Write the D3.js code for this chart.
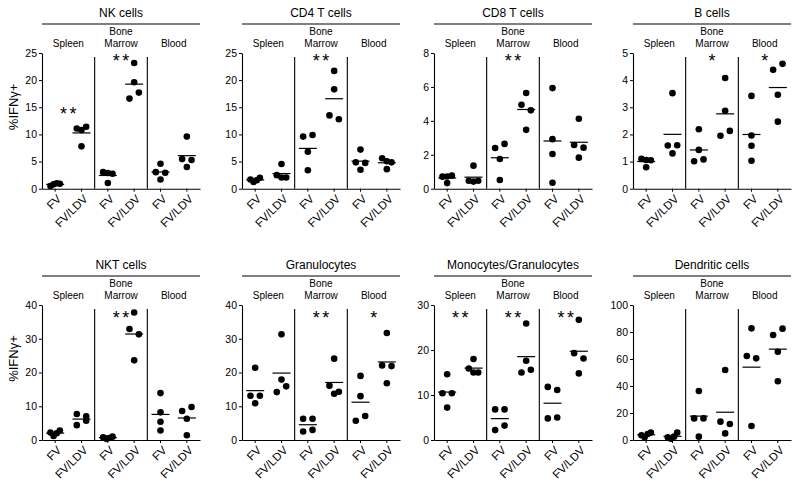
<!DOCTYPE html>
<html><head><meta charset="utf-8">
<script src="https://cdn.jsdelivr.net/npm/d3@7/dist/d3.min.js"></script>
<style>
body{margin:0;background:#fff}
svg{display:block}
text{font-family:"Liberation Sans",Arial,Helvetica,sans-serif;fill:#000}
</style>
</head><body>
<svg id="chart" width="800" height="491"></svg>
<script>
// ---------- data ----------
const panelTitles = ["NK cells", "CD4 T cells", "CD8 T cells", "B cells",
                     "NKT cells", "Granulocytes", "Monocytes/Granulocytes", "Dendritic cells"];
const tissues = ["Spleen", "Bone Marrow", "Blood"];
const treatments = ["FV", "FV/LDV"];
const yMaxima = [25, 25, 8, 5, 40, 40, 30, 100];
const yTickSteps = [5, 5, 2, 1, 10, 10, 10, 20];
const yAxisLabel = "%IFNγ+";

// groups: Spleen FV, Spleen FV/LDV, BM FV, BM FV/LDV, Blood FV, Blood FV/LDV
const nkValues = [[0.5, 0.8, 1.0, 0.9], [11.1, 10.8, 11.4, 7.8], [3.05, 1.05, 2.9, 2.75],
                  [23.15, 19.6, 16.6, 17.7], [4.6, 3.05, 2.95, 1.7], [9.6, 5.45, 5.3, 4.0]];
const cd4Values = [[1.7, 1.25, 1.55, 2.0], [4.55, 2.5, 2.05, 2.05], [9.6, 9.9, 6.8, 3.4],
                   [21.7, 18.3, 13.5, 12.8], [7.2, 4.85, 4.75, 3.5], [5.6, 5.05, 4.85, 3.6]];
const cd8Values = [[0.71, 0.72, 0.77, 0.33], [1.36, 0.47, 0.42, 0.47], [2.4, 2.64, 1.75, 0.51],
                   [5.64, 4.95, 4.62, 3.47], [5.93, 2.92, 2.05, 0.35], [4.12, 2.58, 2.42, 1.83]];
const bValues = [[1.1, 1.06, 1.05, 0.79], [3.52, 1.59, 1.6, 1.3], [2.19, 1.43, 1.01, 1.08],
                 [4.08, 2.87, 1.95, 2.13], [3.42, 1.96, 1.58, 1.03], [4.38, 4.6, 3.46, 2.47]];
const nktValues = [[2.2, 1.2, 2.0, 2.8], [7.7, 7.0, 4.4, 5.7], [0.8, 0.4, 0.6, 1.0],
                   [37.8, 32.9, 31.3, 23.6], [13.9, 8.2, 5.4, 2.8], [8.6, 9.8, 6.3, 1.4]];
const granValues = [[21.4, 13.1, 13.1, 10.9], [31.3, 17.9, 14.2, 15.9], [6.3, 6.3, 2.5, 3.0],
                    [24.1, 16.1, 13.7, 14.3], [19.0, 13.0, 5.7, 7.1], [31.7, 22.1, 21.9, 16.8]];
const monoValues = [[14.6, 10.4, 10.4, 7.2], [18.0, 15.9, 15.0, 15.0], [6.8, 6.8, 2.2, 3.2],
                    [25.9, 17.6, 15.0, 15.6], [11.8, 11.1, 4.8, 5.0], [26.7, 19.3, 18.1, 14.8]];
const dcValues = [[3.5, 2.0, 4.5, 5.5], [2.0, 1.0, 2.5, 5.5], [36.3, 16.0, 16.0, 2.5],
                  [51.9, 13.6, 11.9, 4.9], [82.7, 62.2, 60.5, 10.4], [77.8, 82.5, 65.4, 43.5]];

// significance per tissue (Spleen, Bone Marrow, Blood) and the value level where it sits
const nkSig = ["**", "**", ""],   nkSigAt = [14.5, 24.3, null];
const cd4Sig = ["", "**", ""],    cd4SigAt = [null, 24.3, null];
const cd8Sig = ["", "**", ""],    cd8SigAt = [null, 7.76, null];
const bSig = ["", "*", "*"],      bSigAt = [null, 4.85, 4.85];
const nktSig = ["", "**", ""],    nktSigAt = [null, 37.3, null];
const granSig = ["", "**", "*"],  granSigAt = [null, 37.3, 37.3];
const monoSig = ["**", "**", "**"], monoSigAt = [28, 28, 28];
const dcSig = ["", "", ""],       dcSigAt = [null, null, null];

const allValues = [nkValues, cd4Values, cd8Values, bValues, nktValues, granValues, monoValues, dcValues];
const allSig = [nkSig, cd4Sig, cd8Sig, bSig, nktSig, granSig, monoSig, dcSig];
const allSigAt = [nkSigAt, cd4SigAt, cd8SigAt, bSigAt, nktSigAt, granSigAt, monoSigAt, dcSigAt];

// ---------- layout ----------
const panelLefts = [42, 242, 434, 633];
const rowTops = [53, 305];
const rowBottoms = [188.7, 440];
const plotW = 158;
const svg = d3.select("#chart");

function dodge(values, y) {
  const order = values.map((v, i) => i).sort((a, b) => values[b] - values[a]);
  const rows = [];
  let cur = null;
  order.forEach(i => {
    const py = y(values[i]);
    if (cur && Math.abs(py - cur.y0) < 6.5) cur.members.push(i);
    else { cur = {y0: py, members: [i]}; rows.push(cur); }
  });
  const off = values.map(() => 0);
  rows.forEach(r => {
    r.members.sort((a, b) => a - b);
    const n = r.members.length;
    r.members.forEach((m, k) => { off[m] = n === 1 ? 0 : -4.7 + 9.4 * k / (n - 1); });
  });
  return off;
}

const categories = d3.range(6);

allValues.forEach((groups, p) => {
  const row = Math.floor(p / 4), col = p % 4;
  const left = panelLefts[col], top = rowTops[row], bottom = rowBottoms[row];
  const g = svg.append("g").attr("transform", `translate(${left},0)`);

  const x = d3.scaleBand().domain(categories).range([0, plotW]).paddingInner(0).paddingOuter(0);
  const y = d3.scaleLinear().domain([0, yMaxima[p]]).range([bottom, top]);
  const bw = x.bandwidth();

  // title and rule
  g.append("text").attr("x", plotW / 2).attr("y", top - 36).attr("text-anchor", "middle")
    .style("font-size", "12px").text(panelTitles[p]);
  g.append("line").attr("x1", 0).attr("x2", plotW).attr("y1", top - 29).attr("y2", top - 29)
    .attr("stroke", "#000").attr("stroke-width", 1.2);

  // tissue labels
  tissues.forEach((t, k) => {
    const cx = x(2 * k) + bw;
    const words = t.split(" ");
    words.forEach((w, j) => {
      g.append("text").attr("x", cx).attr("y", top - 6.5 - (words.length - 1 - j) * 11.5)
        .attr("text-anchor", "middle").style("font-size", "10px").text(w);
    });
  });

  // separators
  [2, 4].forEach(c => {
    g.append("line").attr("x1", x(c)).attr("x2", x(c)).attr("y1", top + 4).attr("y2", bottom)
      .attr("stroke", "#000").attr("stroke-width", 1.1);
  });

  // y axis
  const ya = g.append("g").call(d3.axisLeft(y)
      .tickValues(d3.range(0, yMaxima[p] + yTickSteps[p] / 2, yTickSteps[p]))
      .tickFormat(d3.format("d"))
      .tickSize(3).tickPadding(2).tickSizeOuter(0));
  ya.select(".domain").attr("stroke", "#000").attr("stroke-width", 1.1);
  ya.selectAll(".tick line").attr("stroke", "#000");
  ya.selectAll(".tick text").style("font-size", "10.5px").attr("font-family", null);

  // x axis
  const xa = g.append("g").attr("transform", `translate(0,${bottom})`)
    .call(d3.axisBottom(x).tickSize(3).tickSizeOuter(0).tickFormat(i => treatments[i % 2]));
  xa.select(".domain").attr("stroke", "#000").attr("stroke-width", 1.1);
  xa.selectAll(".tick line").attr("stroke", "#000");
  xa.selectAll(".tick text").style("font-size", "11.5px").attr("font-family", null)
    .attr("text-anchor", "end").attr("x", 0).attr("y", 0).attr("dy", "0.35em")
    .attr("transform", "translate(4,8) rotate(-45)");

  // points and means
  groups.forEach((vals, c) => {
    const cx = x(c) + bw / 2;
    const off = dodge(vals, y);
    g.append("g").selectAll("circle").data(vals).join("circle")
      .attr("cx", (d, i) => cx + off[i]).attr("cy", d => y(d)).attr("r", 3.3).attr("fill", "#000");
    const m = d3.mean(vals);
    g.append("line").attr("x1", cx - 9).attr("x2", cx + 9).attr("y1", y(m)).attr("y2", y(m))
      .attr("stroke", "#000").attr("stroke-width", 1.2);
  });

  // significance stars
  allSig[p].forEach((s, k) => {
    if (!s) return;
    const cx = x(2 * k) + bw;
    g.append("text").attr("x", cx + 1.25).attr("y", y(allSigAt[p][k]) + 10.3)
      .attr("text-anchor", "middle").style("font-size", "18px").style("letter-spacing", "2.5px").text(s);
  });

  // y axis label
  if (col === 0) {
    svg.append("text").attr("transform", `translate(18,${(top + bottom) / 2 - 14}) rotate(-90)`)
      .attr("text-anchor", "middle").style("font-size", "13px").text(yAxisLabel);
  }
});
</script>
</body></html>
